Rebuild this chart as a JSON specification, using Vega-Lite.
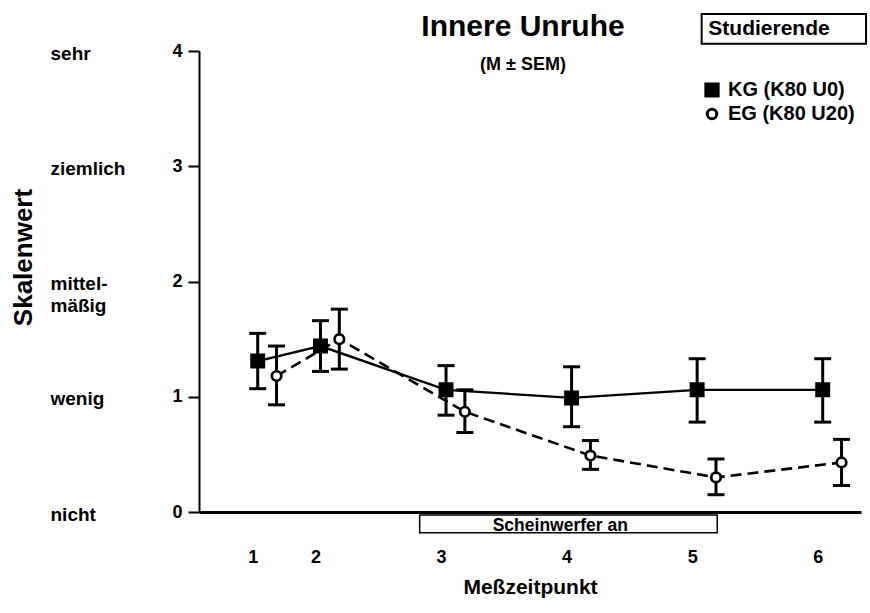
{
  "$schema": "https://vega.github.io/schema/vega-lite/v6.json",
  "width": 662,
  "height": 461,
  "autosize": {"type": "none"},
  "padding": {"left": 199, "top": 51, "right": 9, "bottom": 101},
  "background": "white",
  "config": {
    "font": "Liberation Sans",
    "view": {"stroke": null},
    "axis": {"labelFont": "Liberation Sans", "titleFont": "Liberation Sans", "labelColor": "black", "titleColor": "black", "labelFontWeight": "bold", "titleFontWeight": "bold", "grid": false},
    "legend": {"labelFont": "Liberation Sans", "labelFontWeight": "bold", "labelFontSize": 20, "labelColor": "black"}
  },
  "title": {
    "text": "Innere Unruhe",
    "subtitle": "(M ± SEM)",
    "font": "Liberation Sans",
    "subtitleFont": "Liberation Sans",
    "fontSize": 30,
    "fontWeight": "bold",
    "subtitleFontSize": 18,
    "subtitleFontWeight": "bold",
    "color": "black",
    "subtitleColor": "black",
    "anchor": "middle",
    "dx": -7,
    "offset": -61,
    "subtitlePadding": 14
  },
  "datasets": {
    "werte": [
      {"gruppe": "KG (K80 U0)", "zeitpunkt": 1, "t": 1.0, "m": 1.31, "lo": 1.07, "hi": 1.55},
      {"gruppe": "KG (K80 U0)", "zeitpunkt": 2, "t": 1.5, "m": 1.44, "lo": 1.22, "hi": 1.66},
      {"gruppe": "KG (K80 U0)", "zeitpunkt": 3, "t": 2.5, "m": 1.06, "lo": 0.84, "hi": 1.27},
      {"gruppe": "KG (K80 U0)", "zeitpunkt": 4, "t": 3.5, "m": 0.99, "lo": 0.74, "hi": 1.26},
      {"gruppe": "KG (K80 U0)", "zeitpunkt": 5, "t": 4.5, "m": 1.06, "lo": 0.78, "hi": 1.33},
      {"gruppe": "KG (K80 U0)", "zeitpunkt": 6, "t": 5.5, "m": 1.06, "lo": 0.78, "hi": 1.33},
      {"gruppe": "EG (K80 U20)", "zeitpunkt": 1, "t": 1.15, "m": 1.18, "lo": 0.93, "hi": 1.44},
      {"gruppe": "EG (K80 U20)", "zeitpunkt": 2, "t": 1.65, "m": 1.50, "lo": 1.24, "hi": 1.76},
      {"gruppe": "EG (K80 U20)", "zeitpunkt": 3, "t": 2.65, "m": 0.87, "lo": 0.69, "hi": 1.06},
      {"gruppe": "EG (K80 U20)", "zeitpunkt": 4, "t": 3.65, "m": 0.49, "lo": 0.37, "hi": 0.62},
      {"gruppe": "EG (K80 U20)", "zeitpunkt": 5, "t": 4.65, "m": 0.30, "lo": 0.15, "hi": 0.46},
      {"gruppe": "EG (K80 U20)", "zeitpunkt": 6, "t": 5.65, "m": 0.43, "lo": 0.23, "hi": 0.63}
    ],
    "phase": [
      {"bereich": "Scheinwerfer an", "von": 2.29, "bis": 4.66}
    ],
    "stichprobe": [
      {"name": "Studierende"}
    ]
  },
  "resolve": {"axis": {"y": "independent"}},
  "layer": [
    {
      "data": {"name": "phase"},
      "mark": {"type": "rect", "fill": "white", "stroke": "black", "strokeWidth": 1.5},
      "encoding": {
        "x": {"field": "von", "type": "quantitative", "title": "Meßzeitpunkt", "scale": {"domain": [0.5325, 5.805], "nice": false, "zero": false}},
        "x2": {"field": "bis"},
        "y": {"datum": -0.026, "type": "quantitative", "axis": null, "scale": {"domain": [0, 4], "nice": false}},
        "y2": {"datum": -0.18}
      }
    },
    {
      "data": {"name": "phase"},
      "mark": {"type": "text", "font": "Liberation Sans", "fontWeight": "bold", "fontSize": 17.5, "align": "center", "baseline": "alphabetic", "color": "black"},
      "encoding": {
        "x": {"datum": 3.41, "type": "quantitative", "title": "Meßzeitpunkt", "scale": {"domain": [0.5325, 5.805], "nice": false, "zero": false}},
        "y": {"datum": -0.165, "type": "quantitative", "axis": null, "scale": {"domain": [0, 4], "nice": false}},
        "text": {"field": "bereich"}
      }
    },
    {
      "data": {"name": "stichprobe"},
      "mark": {"type": "rect", "fill": "white", "stroke": "black", "strokeWidth": 2},
      "encoding": {
        "x": {"datum": 4.536, "type": "quantitative", "title": "Meßzeitpunkt", "scale": {"domain": [0.5325, 5.805], "nice": false, "zero": false}},
        "x2": {"datum": 5.845},
        "y": {"datum": 4.322, "type": "quantitative", "axis": null, "scale": {"domain": [0, 4], "nice": false}},
        "y2": {"datum": 4.063}
      }
    },
    {
      "data": {"name": "stichprobe"},
      "mark": {"type": "text", "font": "Liberation Sans", "fontWeight": "bold", "fontSize": 21, "align": "left", "baseline": "middle", "color": "black"},
      "encoding": {
        "x": {"datum": 4.589, "type": "quantitative", "title": "Meßzeitpunkt", "scale": {"domain": [0.5325, 5.805], "nice": false, "zero": false}},
        "y": {"datum": 4.19, "type": "quantitative", "axis": null, "scale": {"domain": [0, 4], "nice": false}},
        "text": {"field": "name"}
      }
    },
    {
      "data": {"name": "werte"},
      "transform": [{"filter": "datum.gruppe == 'KG (K80 U0)'"}],
      "mark": {"type": "line", "color": "black", "strokeWidth": 2.3},
      "encoding": {
        "x": {"field": "t", "type": "quantitative", "title": "Meßzeitpunkt", "scale": {"domain": [0.5325, 5.805], "nice": false, "zero": false}},
        "y": {
          "field": "m", "type": "quantitative", "title": null,
          "scale": {"domain": [0, 4], "nice": false},
          "axis": {"orient": "left", "values": [0, 1, 2, 3, 4], "domain": true, "domainColor": "black", "domainWidth": 2, "ticks": true, "tickColor": "black", "tickWidth": 2, "tickSize": 11, "labelFontSize": 18, "labelPadding": 6, "labelOverlap": false, "labelFlush": false, "title": null}
        }
      }
    },
    {
      "data": {"name": "werte"},
      "transform": [{"filter": "datum.gruppe == 'EG (K80 U20)'"}],
      "mark": {"type": "line", "color": "black", "strokeWidth": 2.6, "strokeDash": [11, 6]},
      "encoding": {
        "x": {"field": "t", "type": "quantitative", "title": "Meßzeitpunkt", "scale": {"domain": [0.5325, 5.805], "nice": false, "zero": false}},
        "y": {"field": "m", "type": "quantitative", "axis": null, "scale": {"domain": [0, 4], "nice": false}}
      }
    },
    {
      "data": {"name": "werte"},
      "mark": {"type": "rule", "color": "black", "strokeWidth": 3, "opacity": 1},
      "encoding": {
        "x": {"field": "t", "type": "quantitative", "title": "Meßzeitpunkt", "scale": {"domain": [0.5325, 5.805], "nice": false, "zero": false}},
        "y": {
          "field": "lo", "type": "quantitative",
          "scale": {"domain": [0, 4], "nice": false},
          "axis": {"orient": "left", "values": [0, 1, 2, 3, 4], "domain": false, "ticks": false, "tickSize": 0, "labelAlign": "left", "labelBaseline": "middle", "labelPadding": 149, "labelOffset": 2, "labelFontSize": 19, "labelLineHeight": 22, "labelOverlap": false, "labelFlush": false, "labelExpr": "[['nicht'], ['wenig'], ['mittel-', 'mäßig'], ['ziemlich'], ['sehr']][datum.value]", "title": "Skalenwert", "titleFontSize": 26, "titlePadding": 14, "titleY": 206}
        },
        "y2": {"field": "hi"}
      }
    },
    {
      "data": {"name": "werte"},
      "mark": {"type": "tick", "color": "black", "opacity": 1, "orient": "horizontal", "size": 17, "thickness": 3},
      "encoding": {
        "x": {"field": "t", "type": "quantitative", "title": "Meßzeitpunkt", "scale": {"domain": [0.5325, 5.805], "nice": false, "zero": false}},
        "y": {"field": "lo", "type": "quantitative", "axis": null, "scale": {"domain": [0, 4], "nice": false}}
      }
    },
    {
      "data": {"name": "werte"},
      "mark": {"type": "tick", "color": "black", "opacity": 1, "orient": "horizontal", "size": 17, "thickness": 3},
      "encoding": {
        "x": {"field": "t", "type": "quantitative", "title": "Meßzeitpunkt", "scale": {"domain": [0.5325, 5.805], "nice": false, "zero": false}},
        "y": {"field": "hi", "type": "quantitative", "axis": null, "scale": {"domain": [0, 4], "nice": false}}
      }
    },
    {
      "data": {"name": "werte"},
      "mark": {"type": "point", "stroke": "black", "strokeWidth": 2.7, "opacity": 1, "filled": false},
      "encoding": {
        "x": {
          "field": "t", "type": "quantitative", "title": "Meßzeitpunkt",
          "scale": {"domain": [0.5325, 5.805], "nice": false, "zero": false},
          "axis": {"values": [1, 1.5, 2.5, 3.5, 4.5, 5.5], "labelExpr": "datum.value == 1 ? '1' : format(datum.value + 0.5, 'd')", "domain": true, "domainColor": "black", "domainWidth": 3, "ticks": false, "tickSize": 0, "labelFontSize": 18, "labelPadding": 36, "labelOffset": -5, "labelFlush": false, "labelOverlap": false, "titleFontSize": 21, "titlePadding": 10}
        },
        "y": {"field": "m", "type": "quantitative", "axis": null, "scale": {"domain": [0, 4], "nice": false}},
        "shape": {"field": "gruppe", "type": "nominal", "title": null, "scale": {"domain": ["KG (K80 U0)", "EG (K80 U20)"], "range": ["square", "circle"]}, "legend": {"orient": "none", "legendX": 503, "legendY": 29, "title": null, "labelOffset": 6, "rowPadding": 0, "padding": 0, "symbolStrokeColor": "black", "symbolStrokeWidth": 3}},
        "fill": {"field": "gruppe", "type": "nominal", "title": null, "scale": {"domain": ["KG (K80 U0)", "EG (K80 U20)"], "range": ["black", "white"]}},
        "size": {"field": "gruppe", "type": "nominal", "title": null, "scale": {"domain": ["KG (K80 U0)", "EG (K80 U20)"], "range": [150, 90]}}
      }
    }
  ]
}
